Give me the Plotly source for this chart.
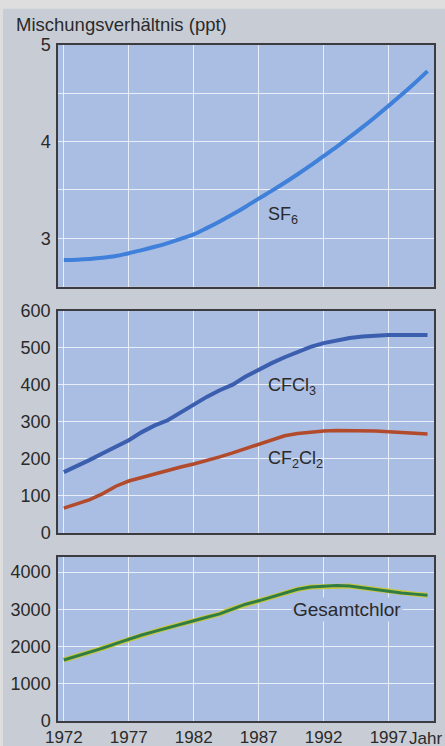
import plotly.graph_objects as go

# Years and mixing ratios (ppt)
years = list(range(1972, 2001))

sf6 = [2.775, 2.778, 2.785, 2.797, 2.815, 2.845, 2.876, 2.911, 2.950, 2.993,
       3.040, 3.104, 3.173, 3.247, 3.326, 3.410, 3.490, 3.574, 3.662, 3.754,
       3.850, 3.946, 4.046, 4.150, 4.258, 4.370, 4.484, 4.604, 4.730]

cfcl3 = [164, 180, 197, 215, 232, 250, 272, 290, 304, 326, 348, 367, 385,
         400, 422, 441, 458, 474, 488, 502, 512, 520, 526, 530, 533, 534,
         534, 534, 534]

cf2cl2 = [67, 78, 90, 106, 126, 140, 150, 160, 170, 178, 186, 195, 205, 216,
          228, 239, 252, 262, 268, 272, 275, 276, 276, 276, 275, 273, 271,
          269, 267]

total_cl = [1640, 1740, 1850, 1960, 2080, 2200, 2310, 2410, 2510, 2610,
            2700, 2790, 2880, 3020, 3140, 3230, 3330, 3440, 3540, 3600,
            3620, 3640, 3630, 3580, 3530, 3480, 3440, 3410, 3380]

year_ticks = [1972, 1977, 1982, 1987, 1992, 1997]

# Figure geometry in pixels
W, H = 445, 746
L, R = 58, 434
P1 = (45.3, 286.7)
P2 = (310.7, 533.0)
P3 = (557.0, 721.0)
TOP, BOT = P1[0], P3[1]
ph = BOT - TOP


def dom(p):
    return [(BOT - p[1]) / ph, (BOT - p[0]) / ph]


def px_x(x):
    return (x - L) / (R - L)


def px_y(y):
    return (BOT - y) / ph


FONT = "Liberation Sans, Arial, sans-serif"
TXT = "#2a2a2a"
PLOT_BG = "#aabde2"
GRID = "rgba(236,241,250,0.95)"
AXLINE = "#3c3c40"

fig = go.Figure()

fig.add_trace(go.Scatter(x=years, y=sf6, mode="lines", line=dict(color="#3f80da", width=4, shape="spline"),
                         xaxis="x", yaxis="y", hoverinfo="skip"))
fig.add_trace(go.Scatter(x=years, y=cfcl3, mode="lines", line=dict(color="#3b5fae", width=4),
                         xaxis="x2", yaxis="y2", hoverinfo="skip"))
fig.add_trace(go.Scatter(x=years, y=cf2cl2, mode="lines", line=dict(color="#b24a2c", width=3.5),
                         xaxis="x2", yaxis="y2", hoverinfo="skip"))
# Total chlorine: yellow rim under a green core
fig.add_trace(go.Scatter(x=years, y=total_cl, mode="lines", line=dict(color="#c9c83a", width=5),
                         xaxis="x3", yaxis="y3", hoverinfo="skip"))
fig.add_trace(go.Scatter(x=years, y=total_cl, mode="lines", line=dict(color="#2f7d45", width=3),
                         xaxis="x3", yaxis="y3", hoverinfo="skip"))

xrange = [1971.55, 2000.5]
xcommon = dict(range=xrange, tickvals=year_ticks, showgrid=True, gridcolor=GRID, gridwidth=1,
               showline=True, mirror=True, linecolor=AXLINE, linewidth=1.5, zeroline=False,
               automargin=False, tickfont=dict(family=FONT, size=17, color=TXT))
ycommon = dict(showgrid=True, gridcolor=GRID, gridwidth=1, showline=True, mirror=True,
               linecolor=AXLINE, linewidth=1.5, zeroline=False, automargin=False,
               ticks="outside", ticklen=2, tickcolor="rgba(0,0,0,0)",
               tickfont=dict(family=FONT, size=18, color=TXT))

fig.update_layout(
    width=W, height=H,
    margin=dict(l=L, r=W - R, t=TOP, b=H - BOT, pad=0),
    paper_bgcolor="#c8cdd5",
    plot_bgcolor=PLOT_BG,
    showlegend=False,
    xaxis=dict(**xcommon, domain=[0, 1], anchor="y", showticklabels=False),
    xaxis2=dict(**xcommon, domain=[0, 1], anchor="y2", showticklabels=False),
    xaxis3=dict(**xcommon, domain=[0, 1], anchor="y3", ticktext=[str(t) for t in year_ticks],
                ticks="", ticklen=0),
    yaxis=dict(**ycommon, domain=dom(P1), anchor="x", range=[2.5, 5],
               tickvals=[2.5, 3, 3.5, 4, 4.5, 5], ticktext=["", "3", "", "4", "", "5"]),
    yaxis2=dict(**ycommon, domain=dom(P2), anchor="x2", range=[0, 600], dtick=100),
    yaxis3=dict(**ycommon, domain=dom(P3), anchor="x3", range=[0, 4410], tickvals=[0, 1000, 2000, 3000, 4000]),
    shapes=[
        # pale page edge along the top and left of the panel
        dict(type="rect", xref="paper", yref="paper", layer="above", line=dict(width=0),
             fillcolor="#dedede", x0=px_x(-5), x1=px_x(W + 5), y0=px_y(9), y1=px_y(-5)),
        dict(type="rect", xref="paper", yref="paper", layer="above", line=dict(width=0),
             fillcolor="#dedede", x0=px_x(-5), x1=px_x(3), y0=px_y(H + 5), y1=px_y(9)),
    ],
)

ann_font = dict(family=FONT, size=18, color=TXT)
fig.add_annotation(text="Mischungsverhältnis (ppt)", xref="paper", yref="paper", x=px_x(14), y=px_y(25),
                   xanchor="left", yanchor="middle", showarrow=False,
                   font=dict(family=FONT, size=18.5, color=TXT))
fig.add_annotation(text="SF<sub>6</sub>", xref="x", yref="y", x=1987.6, y=3.23,
                   xanchor="left", yanchor="middle", showarrow=False, font=ann_font)
fig.add_annotation(text="CFCl<sub>3</sub>", xref="x2", yref="y2", x=1987.6, y=395,
                   xanchor="left", yanchor="middle", showarrow=False, font=ann_font)
fig.add_annotation(text="CF<sub>2</sub>Cl<sub>2</sub>", xref="x2", yref="y2", x=1987.6, y=198,
                   xanchor="left", yanchor="middle", showarrow=False, font=ann_font)
fig.add_annotation(text="Gesamtchlor", xref="x3", yref="y3", x=1989.5, y=3000,
                   xanchor="left", yanchor="middle", showarrow=False,
                   font=dict(family=FONT, size=19, color=TXT),
                   bgcolor=PLOT_BG, borderpad=1)
fig.add_annotation(text="Jahr", xref="x3", yref="paper", x=1997, y=px_y(738), xshift=18,
                   xanchor="left", yanchor="middle", showarrow=False,
                   font=dict(family=FONT, size=17, color=TXT))

fig.write_html("out.html")
